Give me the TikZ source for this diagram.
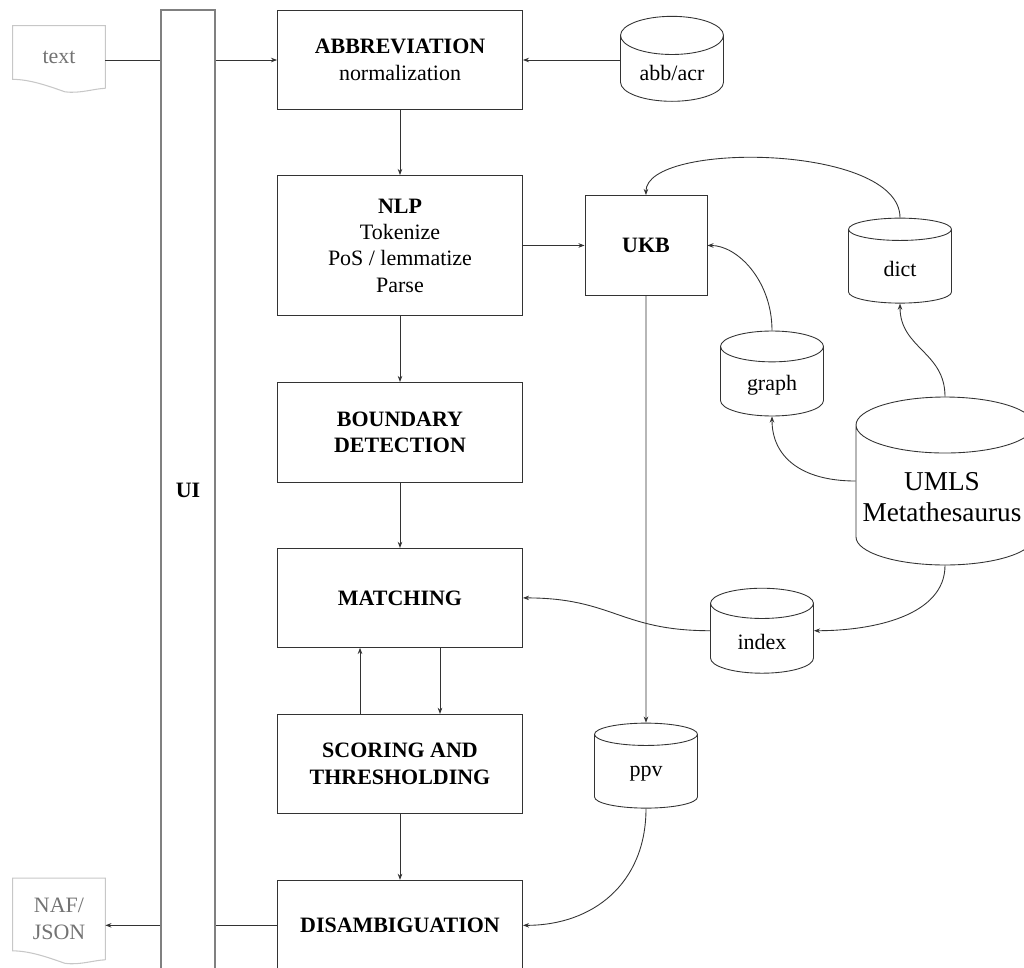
\documentclass[tikz,border=0pt]{standalone}
\usepackage{fontspec}
\setmainfont{Liberation Serif}
\usetikzlibrary{shapes.geometric,arrows.meta,calc}
\tikzstyle{block} = [rectangle, draw=black!80, line width=0.5pt, text centered, align=center, minimum width=4.9cm, minimum height=2cm, font=\fontsize{12.5}{15}\selectfont]
\tikzstyle{store} = [cylinder, shape border rotate=90, aspect=0.5, draw=black!80, line width=0.5pt, align=center, minimum width=2.06cm, minimum height=1.7cm, font=\fontsize{12.5}{15}\selectfont]
\tikzstyle{doc} = [rectangle, text=black!55, align=center, minimum width=1.84cm, font=\fontsize{12.5}{15}\selectfont]
\tikzstyle{docline} = [draw=black!22, line width=0.6pt]
\tikzstyle{line} = [draw=black!80, line width=0.5pt]
\tikzstyle{link} = [line, -{Stealth[length=3.5pt,width=2.6pt]}]

\begin{document}
\begin{tikzpicture}[x=0.02cm, y=-0.02cm]
\useasboundingbox (0,0) rectangle (1024,967);
\clip (0,0) rectangle (1024,967);
% pipeline
\node[block, minimum height=1.98cm] (abbrev) at (400,60) {\textbf{ABBREVIATION}\\normalization};
\node[block, minimum height=2.8cm, below of=abbrev, node distance=3.71cm] (nlp) {\textbf{NLP}\\Tokenize\\PoS / lemmatize\\Parse};
\node[block, below of=nlp, node distance=3.74cm] (boundary) {\textbf{BOUNDARY}\\\textbf{DETECTION}};
\node[block, minimum height=1.98cm, below of=boundary, node distance=3.31cm] (matching) {\textbf{MATCHING}};
\node[block, minimum height=1.98cm, below of=matching, node distance=3.32cm] (scoring) {\textbf{SCORING AND}\\\textbf{THRESHOLDING}};
\node[block, minimum height=1.8cm, below of=scoring, node distance=3.23cm] (disamb) {\textbf{DISAMBIGUATION}};
\node[block, minimum width=2.44cm, right of=nlp, node distance=4.92cm] (ukb) {\textbf{UKB}};
% user interface
\node[rectangle, draw=black!50, line width=0.8pt, minimum width=1.08cm, minimum height=19.2cm, font=\fontsize{12.5}{15}\selectfont\bfseries] (ui) at (188,490) {UI};
% input / output
\node[doc, minimum height=1.24cm] (txt) at (59,57) {text};
\node[doc, minimum height=1.62cm] (naf) at (59,919) {NAF/\\JSON};
\draw[docline] (txt.south east) -- (txt.north east) -- (txt.north west) -- ($(txt.south west)+(0,-9)$) .. controls +(17,0) and +(-17,-6) .. ($(txt.south)+(6,3.5)$) .. controls +(15,2) and +(-10,0) .. (txt.south east);
\draw[docline] (naf.south east) -- (naf.north east) -- (naf.north west) -- ($(naf.south west)+(0,-9)$) .. controls +(17,0) and +(-17,-6) .. ($(naf.south)+(6,3.5)$) .. controls +(15,2) and +(-10,0) .. (naf.south east);
% resources
\node[store] (abb) at (672,73) {abb/acr};
\node[store] (dict) at (900,269) {dict};
\node[store] (graph) at (772,385) {graph};
\node[store] (index) at (762,642) {index};
\node[store] (ppv) at (646,774) {ppv};
\node[store, minimum width=3.56cm, minimum height=3.36cm, aspect=1, inner sep=0.56cm, anchor=shape center] (umls) at (945,481) {};
\node[align=center, font=\fontsize{15.5}{17.5}\selectfont] (umlstext) at (942,497) {UMLS\\Metathesaurus};
% connections
\draw[line] (txt.east |- abbrev.west) -- (ui.west |- abbrev.west);
\draw[link] (ui.east |- abbrev.west) -- (abbrev.west);
\draw[link] (abb.west |- abbrev.east) -- (abbrev.east);
\draw[link] (abbrev) -- (nlp);
\draw[link] (nlp) -- (boundary);
\draw[link] (boundary) -- (matching);
\draw[link] ([xshift=-0.8cm]scoring.north) -- ([xshift=-0.8cm]matching.south);
\draw[link] ([xshift=0.8cm]matching.south) -- ([xshift=0.8cm]scoring.north);
\draw[link] (scoring) -- (disamb);
\draw[line] (disamb.west) -- (ui.east |- disamb.west);
\draw[link] (ui.west |- disamb.west) -- (naf.east |- disamb.west);
\draw[link] (nlp) -- (ukb);
\draw[link] (ukb) -- (ppv);
\draw[link] (dict.north) .. controls +(0,-74) and +(0,-54) .. (ukb.north);
\draw[link] (graph.north) .. controls +(0,-50) and +(30,0) .. (ukb.east);
\draw[link] (umls.north) .. controls +(0,-45) and +(0,45) .. (dict.south);
\draw[link] (umls.west |- umls.shape center) .. controls +(-55,0) and +(0,40) .. (graph.south);
\draw[link] (umls.south) .. controls +(0,50) and +(60,0) .. (index.east |- index.shape center);
\draw[link] (index.west |- index.shape center) .. controls +(-90,0) and +(90,0) .. (matching.east);
\draw[link] (ppv.south) .. controls +(0,75) and +(70,0) .. (disamb.east);
\end{tikzpicture}
\end{document}
